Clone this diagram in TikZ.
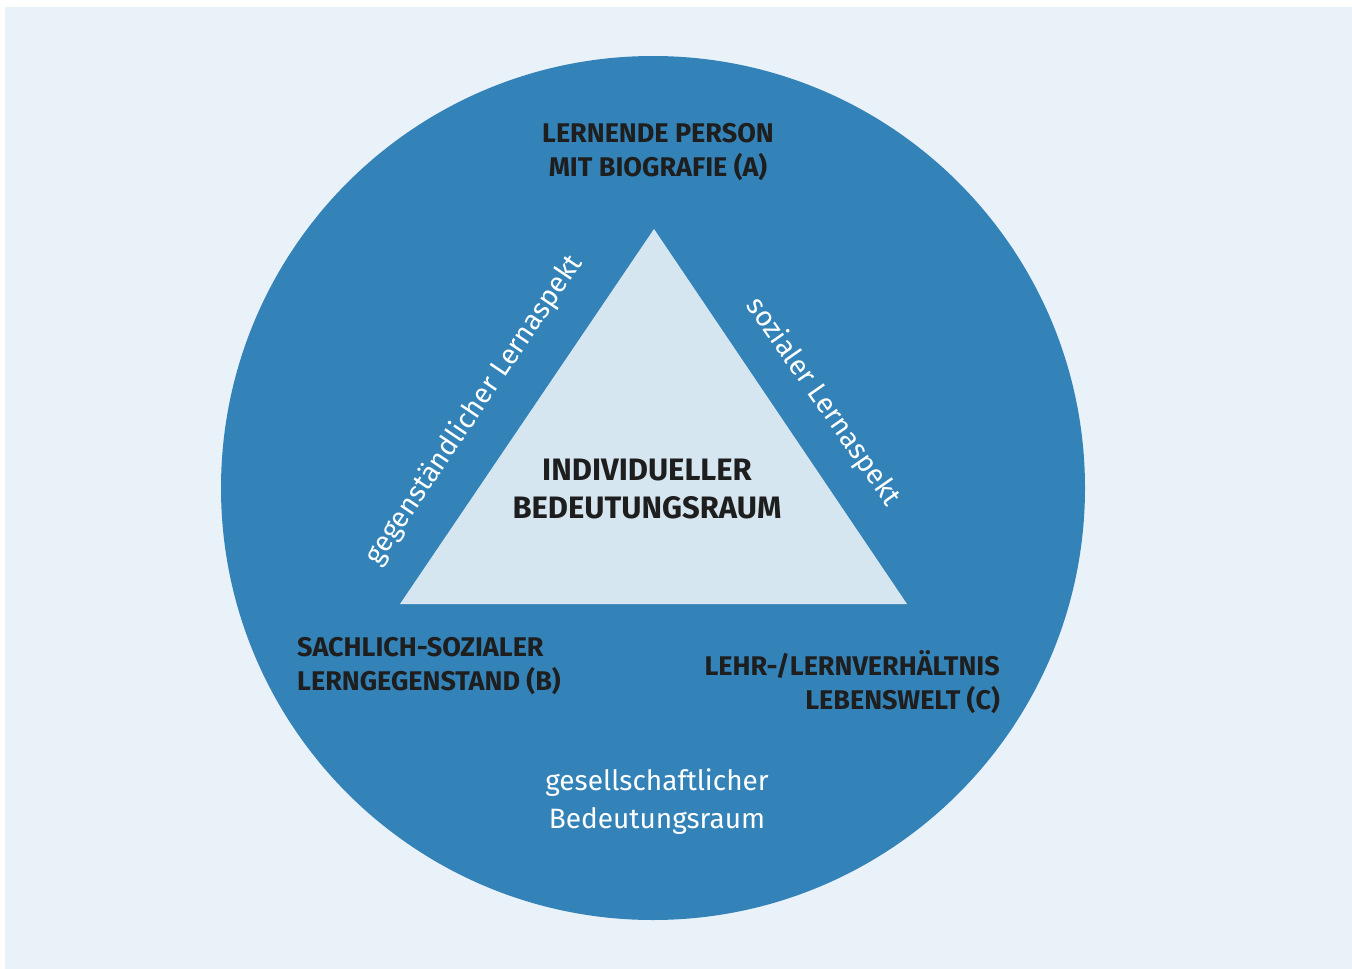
\documentclass[tikz,border=0pt]{standalone}
\usepackage{fontspec}
\setmainfont{Fira Sans}
\usepackage{tikz}
\usetikzlibrary{positioning}

\definecolor{bgblue}{HTML}{EAF2F9}
\definecolor{ringblue}{HTML}{3383B8}
\definecolor{coreblue}{HTML}{D6E6F1}
\definecolor{labdark}{HTML}{1E1E1E}

\begin{document}
\begin{tikzpicture}[
    x=1pt, y=-1pt,
    pole/.style={font=\fontsize{27}{34}\selectfont\bfseries, text=labdark,
      inner sep=0pt},
    aspect/.style={font=\fontsize{28}{34}\selectfont, text=white, inner sep=0pt},
    space/.style={font=\fontsize{28}{38}\selectfont, text=white, inner sep=0pt,
      align=center}
  ]
    \useasboundingbox (0,0) rectangle (1352,969);
    \fill[bgblue] (5,7) rectangle (1352,969);
    % outer circle and inner triangle
    \node[circle, fill=ringblue, minimum size=864pt, inner sep=0pt]
      (gesellschaft) at (653,488) {};
    \coordinate (A) at (654,229);
    \coordinate (B) at (400,604);
    \coordinate (C) at (907,604);
    \fill[coreblue] (A) -- (B) -- (C) -- cycle;

    \node[pole, align=center] (person) at (658,152)
      {LERNENDE PERSON\\MIT BIOGRAFIE (A)};
    \node[pole, align=center, font=\fontsize{31}{38}\selectfont\bfseries]
      (individuell) at (647,489) {INDIVIDUELLER\\BEDEUTUNGSRAUM};
    \node[pole, align=left, anchor=west] (gegenstand) at (297,666)
      {SACHLICH-SOZIALER\\LERNGEGENSTAND (B)};
    \node[pole, align=right, anchor=east] (lebenswelt) at (1000,682)
      {LEHR-/LERNVERHÄLTNIS\\LEBENSWELT (C)};
    \node[space] (gesellschaftlich) at (657,802)
      {gesellschaftlicher\\Bedeutungsraum};

    \node[aspect, rotate=56] (gegenstaendlich) at (474,410)
      {gegenständlicher Lernaspekt};
    \node[aspect, rotate=-55] (sozial) at (823,402)
      {sozialer Lernaspekt};
  \end{tikzpicture}
\end{document}
